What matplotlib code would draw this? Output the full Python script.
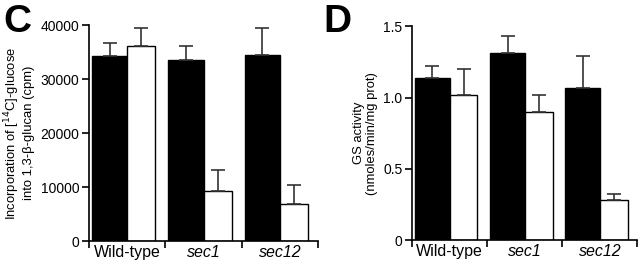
import numpy as np
import matplotlib.pyplot as plt
from matplotlib.ticker import FixedLocator, FixedFormatter

plt.rcParams['font.family'] = ['Liberation Sans', 'DejaVu Sans']

strains = ["Wild-type", "sec1", "sec12"]
glucan_black = [34250, 33500, 34450]
glucan_black_err = [2400, 2600, 5000]
glucan_white = [36100, 9250, 6850]
glucan_white_err = [3350, 3900, 3500]
gs_black = [1.14, 1.31, 1.07]
gs_black_err = [0.08, 0.12, 0.22]
gs_white = [1.02, 0.90, 0.28]
gs_white_err = [0.18, 0.12, 0.04]

fig = plt.figure(figsize=(6.4, 2.67), dpi=100)
axC = fig.add_axes([0.139, 0.097, 0.358, 0.809])
axD = fig.add_axes([0.644, 0.101, 0.352, 0.800])

def panel(ax, black, berr, white, werr, ymax, yticks, ylabels, ylabel):
    x = np.arange(len(strains))
    ekw = dict(ecolor='#333333', elinewidth=1.2, capthick=1.2)
    ax.bar(x - 0.46, black, width=0.46, align='edge', color='black',
           edgecolor='black', linewidth=1)
    ax.bar(x, white, width=0.37, align='edge', color='white',
           edgecolor='black', linewidth=1)
    ax.errorbar(x - 0.23, black, yerr=[np.zeros(3), berr], fmt='none',
                capsize=5, **ekw)
    ax.errorbar(x + 0.185, white, yerr=[np.zeros(3), werr], fmt='none',
                capsize=5, **ekw)
    ax.set_xlim(-0.5, 2.5)
    ax.set_ylim(0, ymax)
    ax.spines['top'].set_visible(False)
    ax.spines['right'].set_visible(False)
    ax.spines['left'].set_linewidth(1.2)
    ax.spines['bottom'].set_linewidth(1.2)
    ax.xaxis.set_major_locator(FixedLocator([-0.5, 0.5, 1.5, 2.5]))
    ax.xaxis.set_major_formatter(FixedFormatter([]))
    ax.xaxis.set_minor_locator(FixedLocator(x))
    ax.xaxis.set_minor_formatter(FixedFormatter(strains))
    ax.tick_params(axis='x', which='minor', length=0, labelsize=11.5, pad=3)
    ax.tick_params(axis='x', which='major', length=5, width=1.2, direction='out')
    for i, lab in enumerate(ax.get_xticklabels(minor=True)):
        if i > 0:
            lab.set_style('italic')
    ax.set_yticks(yticks)
    ax.set_yticklabels(ylabels)
    ax.tick_params(axis='y', length=5, width=1.2, labelsize=10, pad=2)
    ax.set_ylabel(ylabel, fontsize=9.4, linespacing=1.1, labelpad=4)

panel(axC, glucan_black, glucan_black_err, glucan_white, glucan_white_err,
      40000, [0, 10000, 20000, 30000, 40000],
      ["0", "10000", "20000", "30000", "40000"],
      "Incorporation of [$^{14}$C]-glucose\ninto 1,3-β-glucan (cpm)")
panel(axD, gs_black, gs_black_err, gs_white, gs_white_err,
      1.5, [0, 0.5, 1.0, 1.5], ["0", "0.5", "1.0", "1.5"],
      "GS activity\n(nmoles/min/mg prot)")

fig.text(0.006, 0.985, "C", fontsize=28, fontweight='bold', va='top')
fig.text(0.506, 0.985, "D", fontsize=28, fontweight='bold', va='top')

fig.savefig("out.png", dpi=100)
